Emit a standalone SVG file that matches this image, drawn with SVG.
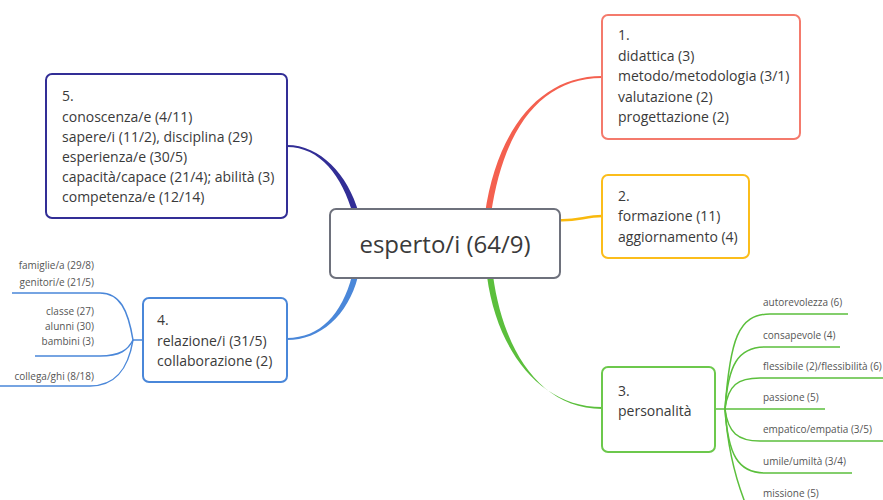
<svg xmlns="http://www.w3.org/2000/svg" width="883" height="500" viewBox="0 0 883 500">
<style>
.t{font-family:"Open Sans","Noto Sans","Liberation Sans",sans-serif;font-size:14px;fill:#3a3a3a}
.s{font-family:"Open Sans","Noto Sans","Liberation Sans",sans-serif;font-size:10px;fill:#555}
.c{font-family:"Open Sans","Noto Sans","Liberation Sans",sans-serif;font-size:24px;fill:#3a3a3a}
.box{fill:#fff;stroke-width:2}
.g{fill:none;stroke:#5bbf3c;stroke-width:1.5}
.b{fill:none;stroke:#4a87d9;stroke-width:1.5}
</style>
<rect width="883" height="500" fill="#fff"/>
<g id="connectors">
<path d="M491,214.4 C503,130.4 540,78 602,78 L602,76 C540,76 497,129.6 485,213.6 Z" fill="#f4604f"/>
<path d="M556,220 C575,222 585,216 602,216" fill="none" stroke="#f9b90d" stroke-width="2.5"/>
<path d="M487,276.4 C497,350.4 540,407 602,407 L602,409 C540,409 503,349.6 493,275.6 Z" fill="#5bbf3c"/>
<path d="M352.1,275.3 C342.1,314.3 320,338 287,338 L287,340 C320,340 347.9,315.7 357.9,276.7 Z" fill="#4a87d9"/>
<path d="M358.9,213.2 C347.9,174.2 320,145 287,145 L287,147 C320,147 342.1,175.8 353.1,214.8 Z" fill="#322e96"/>
<path class="g" d="M715,409 H825"/>
<path class="g" d="M725,409 C730,340 738,314 770,314 H848"/>
<path class="g" d="M725,409 C728,365 738,347 765,347 H840"/>
<path class="g" d="M725,409 C728,385 738,378 760,378 H883"/>
<path class="g" d="M725,409 C728,433 738,441 760,441 H883"/>
<path class="g" d="M725,409 C728,455 738,473 765,473 H852"/>
<path class="g" d="M725,409 C728,455 738,485 746,505"/>
<path class="b" d="M143,340 H133"/>
<path class="b" d="M133,340 C128,310 120,293 100,293 H12"/>
<path class="b" d="M133,340 C128,350 120,356 100,356 H35"/>
<path class="b" d="M133,340 C128,370 115,386 90,386 H0"/>
</g>
<g id="center">
<rect class="box" x="330" y="209" width="230" height="69" rx="6" stroke="#6e717c" stroke-width="2.5"/>
<text class="c" x="445" y="253" text-anchor="middle">esperto/i (64/9)</text>
</g>
<g id="node1">
<rect class="box" x="602" y="15" width="198" height="124" rx="6" stroke="#f47a6c"/>
<text class="t" x="618" y="40">1.</text>
<text class="t" x="618" y="60.5">didattica (3)</text>
<text class="t" x="618" y="81">metodo/metodologia (3/1)</text>
<text class="t" x="618" y="101.5">valutazione (2)</text>
<text class="t" x="618" y="122">progettazione (2)</text>
</g>
<g id="node2">
<rect class="box" x="602" y="175" width="147" height="83" rx="6" stroke="#fbbd1b"/>
<text class="t" x="618" y="201">2.</text>
<text class="t" x="618" y="221">formazione (11)</text>
<text class="t" x="618" y="242">aggiornamento (4)</text>
</g>
<g id="node3">
<rect class="box" x="602" y="367" width="113" height="85" rx="6" stroke="#6cc84c"/>
<text class="t" x="618" y="396">3.</text>
<text class="t" x="618" y="416">personalità</text>
</g>
<g id="node4">
<rect class="box" x="143" y="298" width="144" height="84" rx="6" stroke="#4a87d9"/>
<text class="t" x="157" y="325">4.</text>
<text class="t" x="157" y="346">relazione/i (31/5)</text>
<text class="t" x="157" y="366">collaborazione (2)</text>
</g>
<g id="node5">
<rect class="box" x="46" y="74" width="241" height="144" rx="6" stroke="#322e96"/>
<text class="t" x="62" y="101">5.</text>
<text class="t" x="62" y="122">conoscenza/e (4/11)</text>
<text class="t" x="62" y="142">sapere/i (11/2), disciplina (29)</text>
<text class="t" x="62" y="162">esperienza/e (30/5)</text>
<text class="t" x="62" y="182">capacità/capace (21/4); abilità (3)</text>
<text class="t" x="62" y="202">competenza/e (12/14)</text>
</g>
<g id="labels3">
<text class="s" x="763" y="306">autorevolezza (6)</text>
<text class="s" x="763" y="339">consapevole (4)</text>
<text class="s" x="763" y="370">flessibile (2)/flessibilità (6)</text>
<text class="s" x="763" y="401">passione (5)</text>
<text class="s" x="763" y="433">empatico/empatia (3/5)</text>
<text class="s" x="763" y="465">umile/umiltà (3/4)</text>
<text class="s" x="763" y="497">missione (5)</text>
</g>
<g id="labels4">
<text class="s" x="94" y="269" text-anchor="end">famiglie/a (29/8)</text>
<text class="s" x="94" y="286" text-anchor="end">genitori/e (21/5)</text>
<text class="s" x="94" y="315" text-anchor="end">classe (27)</text>
<text class="s" x="94" y="330" text-anchor="end">alunni (30)</text>
<text class="s" x="94" y="345" text-anchor="end">bambini (3)</text>
<text class="s" x="94" y="380" text-anchor="end">collega/ghi (8/18)</text>
</g>
</svg>
